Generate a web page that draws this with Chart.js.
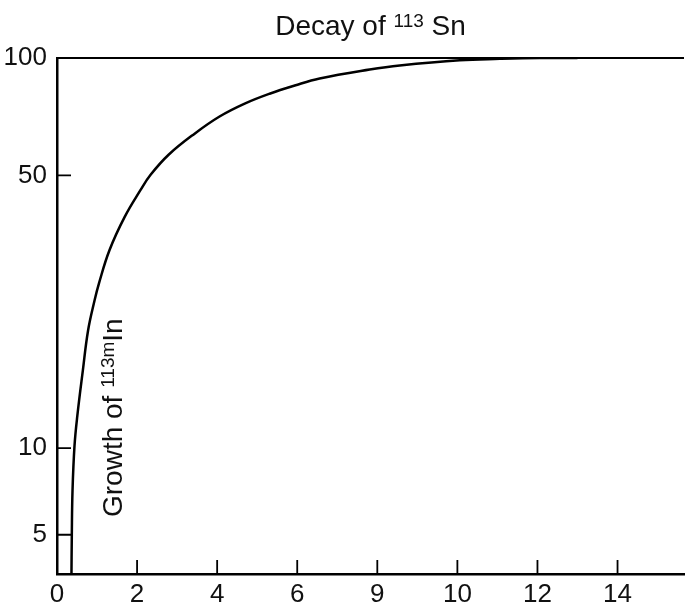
<!DOCTYPE html>
<html>
<head>
<meta charset="utf-8">
<script src="https://cdn.jsdelivr.net/npm/chart.js@4.4.1/dist/chart.umd.min.js"></script>
<style>
  body { margin: 0; background: #fff; }
</style>
</head>
<body>
<canvas id="decayChart" width="685" height="611"></canvas>
<script>
// hours after elution
const timeHours = [0.36, 0.37, 0.3875, 0.4375, 0.5075, 0.645, 0.775, 0.9375, 1.05, 1.3125, 1.6875, 2.0875, 2.3375, 2.7875, 3.4375, 4.06, 4.6875, 5.31, 5.9375, 6.56, 7.81, 8.56, 10.06, 11.06, 12.06, 13.0];
// 113mIn activity, % of equilibrium
const growthPct = [4.56, 6.0, 7.78, 10.15, 12.1, 15.8, 20.0, 23.9, 26.5, 32.2, 39.1, 45.9, 50.2, 56.5, 64.0, 70.8, 76.4, 81.0, 85.0, 88.6, 93.4, 95.7, 98.7, 99.5, 100, 100];

const xTickValues = [0, 2, 4, 6, 8, 10, 12, 14];
const xTickLabels = ['0', '2', '4', '6', '9', '10', '12', '14'];
// the printed "5" sits where ~6 falls on the log scale in the original
const yTickValues = [6, 10, 50, 100];
const yTickLabels = ['5', '10', '50', '100'];

const FONT = '"Liberation Sans", Arial, Helvetica, sans-serif';

// draw text runs with superscripts, left to right from (x, y)
function drawRuns(ctx, runs, x, y) {
    runs.forEach(r => {
        ctx.font = r.size + 'px ' + FONT;
        ctx.fillText(r.text, x, y - r.rise);
        x += ctx.measureText(r.text).width;
    });
}

function runsWidth(ctx, runs) {
    let w = 0;
    runs.forEach(r => {
        ctx.font = r.size + 'px ' + FONT;
        w += ctx.measureText(r.text).width;
    });
    return w;
}

const decorations = {
    id: 'decorations',
    afterDraw(chart) {
        const ctx = chart.ctx;
        const area = chart.chartArea;
        const xs = chart.scales.x;
        const ys = chart.scales.y;
        ctx.save();
        ctx.strokeStyle = '#000';
        ctx.fillStyle = '#111';

        // top line at 100
        ctx.lineWidth = 2;
        const yTop = ys.getPixelForValue(100);
        ctx.beginPath();
        ctx.moveTo(area.left, yTop);
        ctx.lineTo(area.right, yTop);
        ctx.stroke();

        // tick marks point inward
        ctx.lineWidth = 1.8;
        ctx.beginPath();
        yTickValues.forEach(v => {
            if (v === 100) return;
            const py = ys.getPixelForValue(v);
            ctx.moveTo(area.left, py);
            ctx.lineTo(area.left + 14, py);
        });
        xTickValues.forEach(v => {
            if (v === 0) return;
            const px = xs.getPixelForValue(v);
            ctx.moveTo(px, area.bottom);
            ctx.lineTo(px, area.bottom - 14);
        });
        ctx.stroke();

        // title
        ctx.textBaseline = 'alphabetic';
        ctx.textAlign = 'left';
        const title = [
            { text: 'Decay of ', size: 28, rise: 0 },
            { text: '113', size: 19, rise: 8 },
            { text: ' Sn', size: 28, rise: 0 }
        ];
        const tw = runsWidth(ctx, title);
        drawRuns(ctx, title, (area.left + area.right) / 2 - tw / 2, 35);

        // curve label, reading bottom to top
        const label = [
            { text: 'Growth of ', size: 28, rise: 0 },
            { text: '113m', size: 19, rise: 8 },
            { text: 'In', size: 28, rise: 0 }
        ];
        ctx.translate(122, 517);
        ctx.rotate(-Math.PI / 2);
        drawRuns(ctx, label, 0, 0);
        ctx.restore();
    }
};

new Chart(document.getElementById('decayChart'), {
    type: 'line',
    data: {
        datasets: [{
            label: 'Growth of 113mIn',
            data: timeHours.map((t, i) => ({ x: t, y: growthPct[i] })),
            borderColor: '#000',
            borderWidth: 2.5,
            pointRadius: 0,
            tension: 0.4,
            fill: false
        }]
    },
    options: {
        responsive: false,
        animation: false,
        layout: { padding: { top: 58, right: 1, left: 0, bottom: 0 } },
        plugins: {
            legend: { display: false },
            tooltip: { enabled: false }
        },
        scales: {
            x: {
                type: 'linear',
                min: 0,
                max: 15.66,
                grid: { display: false, drawTicks: false },
                border: { display: true, color: '#000', width: 2.5 },
                afterBuildTicks: s => { s.ticks = xTickValues.map(v => ({ value: v })); },
                afterFit: s => { s.height = 37; },
                ticks: {
                    autoSkip: false,
                    maxRotation: 0,
                    padding: 5,
                    color: '#111',
                    font: { family: FONT, size: 26 },
                    callback: (v, i) => xTickLabels[i]
                }
            },
            y: {
                type: 'logarithmic',
                min: 4.76,
                max: 100,
                grid: { display: false, drawTicks: false },
                border: { display: true, color: '#000', width: 2.5 },
                afterBuildTicks: s => { s.ticks = yTickValues.map(v => ({ value: v })); },
                afterFit: s => { s.width = 57; },
                ticks: {
                    autoSkip: false,
                    padding: 10,
                    color: '#111',
                    font: { family: FONT, size: 26 },
                    callback: (v, i) => yTickLabels[i]
                }
            }
        }
    },
    plugins: [decorations]
});
</script>
</body>
</html>
